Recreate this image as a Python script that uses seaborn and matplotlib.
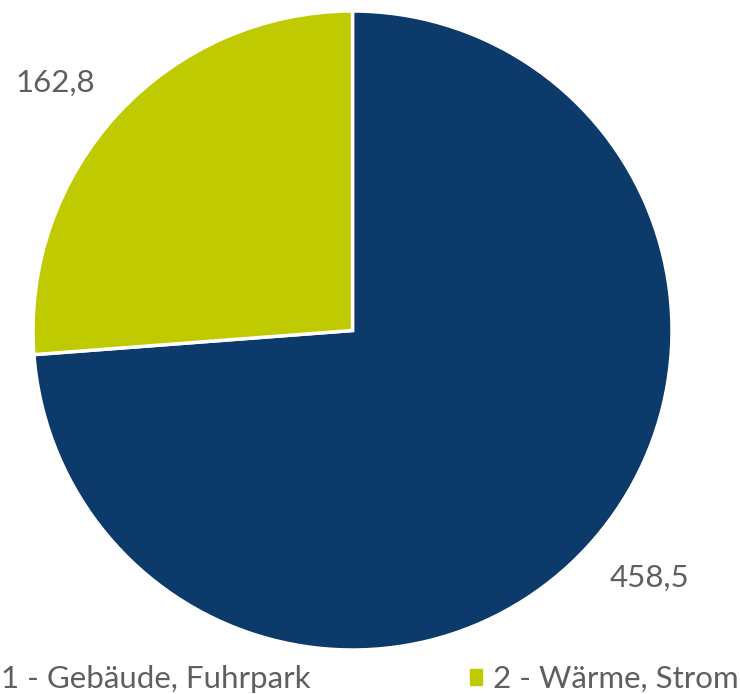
import matplotlib
matplotlib.use("Agg")
import numpy as np
import matplotlib.pyplot as plt
import matplotlib.patches as mpatches
import seaborn as sns

categories = ["1 - Gebäude, Fuhrpark", "2 - Wärme, Strom"]
values = [458.5, 162.8]
colors = ["#0B3A6B", "#BFCA00"]

sns.set_theme(style="white")
plt.rcParams["font.family"] = ["Lato", "DejaVu Sans"]

FS = 22.5
TXT = "#5f5f5f"

fig = plt.figure(figsize=(7.40, 6.94), dpi=100)
ax = fig.add_axes([33/740, 44/694, 639/740, 639/694])
wedges, texts = ax.pie(
    values, colors=colors, startangle=90, counterclock=False,
    labels=[f"{v:.1f}".replace(".", ",") for v in values],
    labeldistance=1.21,
    wedgeprops=dict(edgecolor="white", linewidth=2.5),
    textprops=dict(fontsize=FS, color=TXT, fontweight="normal"),
)
for w, t in zip(wedges, texts):
    mid = np.deg2rad((w.theta1 + w.theta2) / 2 + 3)
    t.set_position((1.21 * np.cos(mid), 1.21 * np.sin(mid)))
    t.set_ha("center")
    t.set_va("center")
ax.set_aspect("equal")
ax.set_xlim(-1, 1)
ax.set_ylim(-1, 1)
ax.axis("off")

handles = [mpatches.Patch(color=c, label=l) for c, l in zip(colors, categories)]
leg = fig.legend(handles=handles, loc="lower left", bbox_to_anchor=(-22/740, 1/694),
                 ncol=2, frameon=False, handlelength=0.38, handleheight=0.38,
                 handletextpad=0.36, columnspacing=5.1, borderpad=0, borderaxespad=0,
                 prop=dict(weight="normal", size=FS))
for t in leg.get_texts():
    t.set_color(TXT)

fig.savefig("out.png", dpi=100, facecolor="white")
